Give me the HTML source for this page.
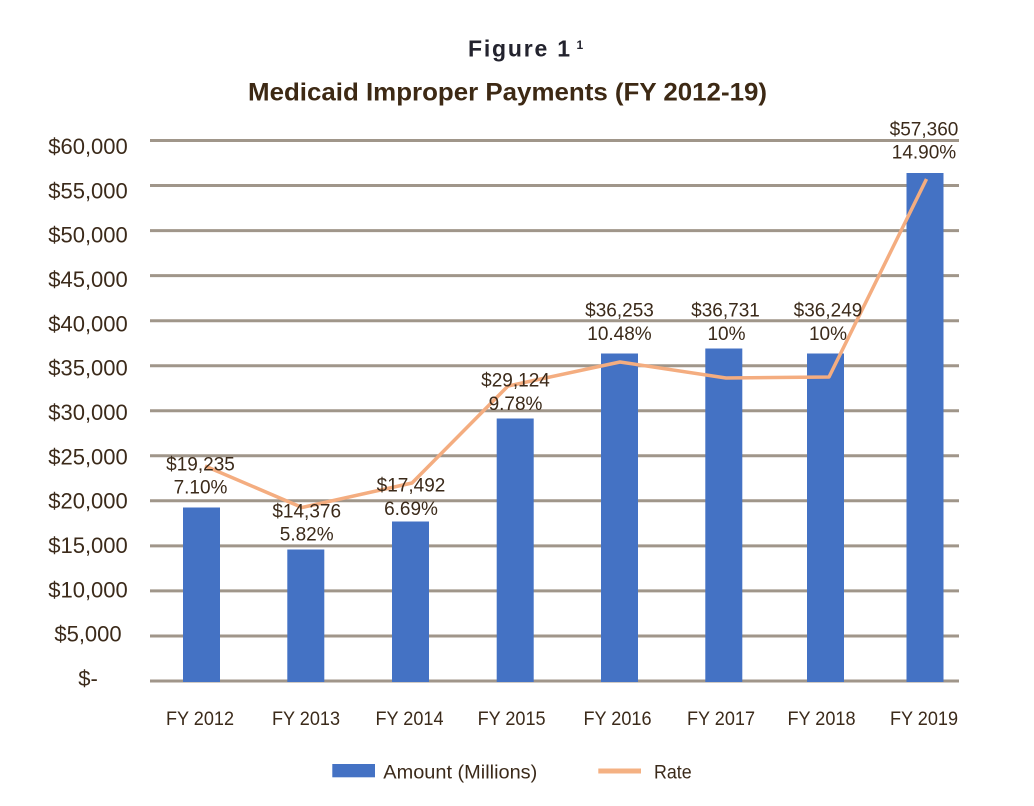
<!DOCTYPE html>
<html>
<head>
<meta charset="utf-8">
<style>
  html, body { margin: 0; padding: 0; background: #ffffff; }
  svg { display: block; }
  text { font-family: "Liberation Sans", "DejaVu Sans", sans-serif; }
</style>
</head>
<body>
<svg width="1034" height="806" viewBox="0 0 1034 806" xmlns="http://www.w3.org/2000/svg">
  <rect x="0" y="0" width="1034" height="806" fill="#ffffff"/>

  <!-- Titles -->
  <text x="468" y="56.7" font-size="23" font-weight="bold" fill="#23232e" textLength="102" lengthAdjust="spacing">Figure 1</text>
  <text x="576.5" y="49" font-size="12" font-weight="bold" fill="#23232e">1</text>
  <text x="248" y="100.7" font-size="25" font-weight="bold" fill="#3d2914" textLength="519" lengthAdjust="spacingAndGlyphs">Medicaid Improper Payments (FY 2012-19)</text>

  <!-- Gridlines -->
  <g stroke="#a0968a" stroke-width="3">
    <line x1="150" x2="959" y1="140.5" y2="140.5"/>
    <line x1="150" x2="959" y1="185.5" y2="185.5"/>
    <line x1="150" x2="959" y1="230.6" y2="230.6"/>
    <line x1="150" x2="959" y1="275.6" y2="275.6"/>
    <line x1="150" x2="959" y1="320.7" y2="320.7"/>
    <line x1="150" x2="959" y1="365.7" y2="365.7"/>
    <line x1="150" x2="959" y1="410.7" y2="410.7"/>
    <line x1="150" x2="959" y1="455.8" y2="455.8"/>
    <line x1="150" x2="959" y1="500.8" y2="500.8"/>
    <line x1="150" x2="959" y1="545.9" y2="545.9"/>
    <line x1="150" x2="959" y1="590.9" y2="590.9"/>
    <line x1="150" x2="959" y1="636" y2="636"/>
    <line x1="150" x2="959" y1="681" y2="681"/>
  </g>

  <!-- Y axis labels -->
  <g font-size="22" fill="#3b2a1a" text-anchor="middle">
    <text x="88" y="154">$60,000</text>
    <text x="88" y="198.3">$55,000</text>
    <text x="88" y="242.7">$50,000</text>
    <text x="88" y="287">$45,000</text>
    <text x="88" y="331.4">$40,000</text>
    <text x="88" y="375.7">$35,000</text>
    <text x="88" y="420">$30,000</text>
    <text x="88" y="464.4">$25,000</text>
    <text x="88" y="508.7">$20,000</text>
    <text x="88" y="553.1">$15,000</text>
    <text x="88" y="597.4">$10,000</text>
    <text x="88" y="641.7">$5,000</text>
    <text x="88" y="686">$-</text>
  </g>

  <!-- Bars -->
  <g fill="#4472c4">
    <rect x="183" y="507.5" width="37" height="174.5"/>
    <rect x="287.3" y="549.5" width="37" height="132.5"/>
    <rect x="392" y="521.5" width="37" height="160.5"/>
    <rect x="496.7" y="418.5" width="37" height="263.5"/>
    <rect x="601" y="353.5" width="37" height="328.5"/>
    <rect x="705.3" y="348.5" width="37" height="333.5"/>
    <rect x="807" y="353.5" width="37" height="328.5"/>
    <rect x="906.5" y="173" width="37" height="509"/>
  </g>

  <!-- Rate line -->
  <polyline fill="none" stroke="#f4ad80" stroke-width="3.5" stroke-linejoin="round"
    points="205,466 302,507.5 412,483 508,386 620,362 726,378 829,377 926.5,179"/>

  <!-- Data labels -->
  <g font-size="19" fill="#3b2a1a" text-anchor="middle">
    <text x="200.5" y="470.7">$19,235</text>
    <text x="200.5" y="493.3">7.10%</text>
    <text x="306.7" y="517.3">$14,376</text>
    <text x="306.7" y="540.7">5.82%</text>
    <text x="411" y="491.7">$17,492</text>
    <text x="411" y="515">6.69%</text>
    <text x="515.5" y="386.7">$29,124</text>
    <text x="515.5" y="410">9.78%</text>
    <text x="619.5" y="316.7">$36,253</text>
    <text x="619.5" y="340">10.48%</text>
    <text x="725.5" y="316.7">$36,731</text>
    <text x="726.5" y="340">10%</text>
    <text x="828" y="316.7">$36,249</text>
    <text x="828" y="340">10%</text>
    <text x="924" y="135.5">$57,360</text>
    <text x="924" y="158.7">14.90%</text>
  </g>

  <!-- X axis labels -->
  <g font-size="19.6" fill="#3b2a1a" text-anchor="middle">
    <text x="200" y="725" textLength="68" lengthAdjust="spacingAndGlyphs">FY 2012</text>
    <text x="306" y="725" textLength="68" lengthAdjust="spacingAndGlyphs">FY 2013</text>
    <text x="409.5" y="725" textLength="68" lengthAdjust="spacingAndGlyphs">FY 2014</text>
    <text x="511.6" y="725" textLength="68" lengthAdjust="spacingAndGlyphs">FY 2015</text>
    <text x="617.5" y="725" textLength="68" lengthAdjust="spacingAndGlyphs">FY 2016</text>
    <text x="721" y="725" textLength="68" lengthAdjust="spacingAndGlyphs">FY 2017</text>
    <text x="821.5" y="725" textLength="68" lengthAdjust="spacingAndGlyphs">FY 2018</text>
    <text x="924" y="725" textLength="68" lengthAdjust="spacingAndGlyphs">FY 2019</text>
  </g>

  <!-- Legend -->
  <rect x="332.3" y="764" width="42.7" height="13.3" fill="#4472c4"/>
  <text x="383.3" y="778.3" font-size="19" fill="#3b2a1a" textLength="154" lengthAdjust="spacingAndGlyphs">Amount (Millions)</text>
  <line x1="598.3" x2="641" y1="771" y2="771" stroke="#f4b183" stroke-width="5"/>
  <text x="654" y="778.3" font-size="19" fill="#3b2a1a" textLength="37.7" lengthAdjust="spacingAndGlyphs">Rate</text>
</svg>
</body>
</html>
